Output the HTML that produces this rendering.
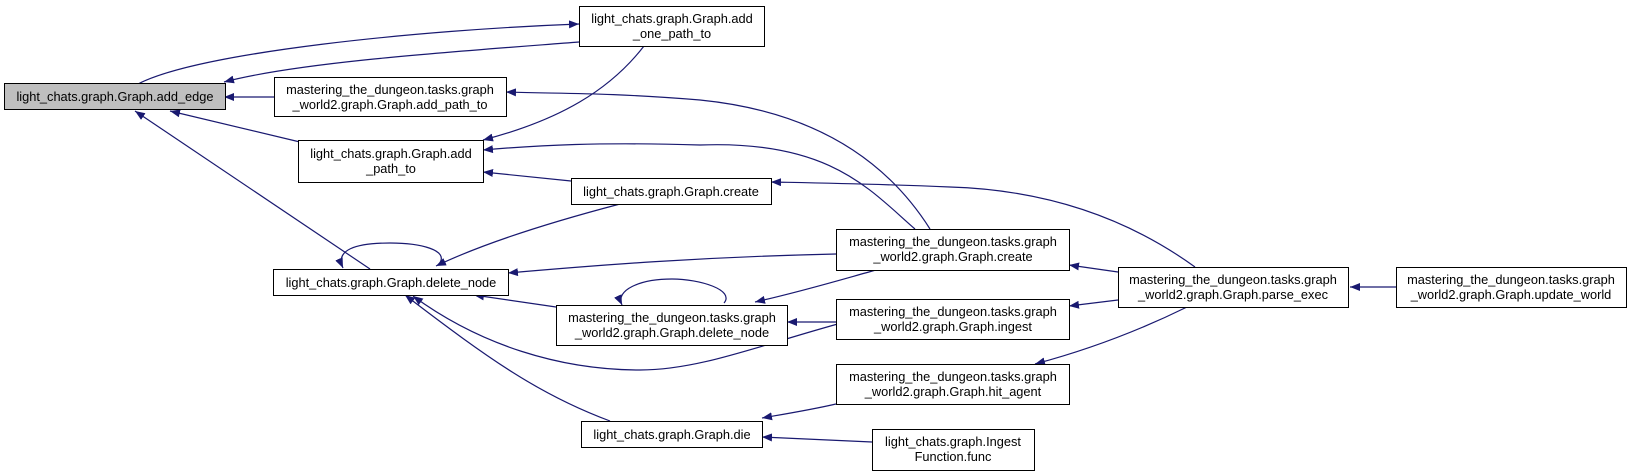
<!DOCTYPE html>
<html><head><meta charset="utf-8"><style>
html,body{margin:0;padding:0;background:#fff;}
svg{display:block;}
text{font-family:"Liberation Sans",sans-serif;font-size:12.8px;fill:#000;}
</style></head><body>
<svg width="1633" height="476" viewBox="0 0 1633 476" xmlns="http://www.w3.org/2000/svg">
<defs>
<marker id="a" viewBox="0 0 10 8" refX="10" refY="4" markerWidth="10" markerHeight="8" markerUnits="userSpaceOnUse" orient="auto">
<path d="M0,0 L10,4 L0,8 z" fill="#191970"/>
</marker>
</defs>
<g fill="none" stroke="#191970" stroke-width="1.2" marker-end="url(#a)">
<path d="M138,84 C200,52 420,30 579,24"/>
<path d="M579,42 C450,52 300,62 224,82"/>
<path d="M274,97 L224,97"/>
<path d="M300,142 L170,111"/>
<path d="M370,269 L135,111"/>
<path d="M644,46 C610,90 560,120 483,140"/>
<path d="M571,181 L483,172"/>
<path d="M915,229 C870,190 830,140 700,145 C600,142 540,145 483,150"/>
<path d="M930,229 C880,150 800,110 700,100 C600,92 560,94 506,92"/>
<path d="M620,204 C540,225 480,245 436,266"/>
<path d="M439,264 C450,250 420,243 390,243 C355,243 335,250 343,268"/>
<path d="M836,254 C700,257 600,265 508,273"/>
<path d="M556,307 L474,295"/>
<path d="M845,322 C760,345 700,370 640,370 C560,370 480,345 413,296"/>
<path d="M610,421 C540,395 490,360 405,295"/>
<path d="M724,303 C735,290 700,279 672,279 C640,279 615,290 622,305"/>
<path d="M876,270 C840,280 800,292 755,302"/>
<path d="M836,322 L787,322"/>
<path d="M1118,272 L1069,265"/>
<path d="M1118,300 L1069,306"/>
<path d="M1195,267 C1130,220 1050,190 950,187 C880,184 820,183 771,182"/>
<path d="M1187,307 C1130,335 1080,352 1035,364"/>
<path d="M836,404 C810,410 785,414 762,418"/>
<path d="M872,442 L762,437"/>
<path d="M1398,287 L1350,287"/>
</g>
<g stroke="#000" stroke-width="1" fill="#fff">
<rect x="4.5" y="83.5" width="221" height="26" fill="#bfbfbf"/>
<rect x="579.5" y="6.5" width="185" height="40"/>
<rect x="274.5" y="77.5" width="232" height="39"/>
<rect x="298.5" y="140.5" width="185" height="42"/>
<rect x="571.5" y="178.5" width="200" height="26"/>
<rect x="273.5" y="269.5" width="235" height="26"/>
<rect x="556.5" y="305.5" width="231" height="40"/>
<rect x="581.5" y="421.5" width="181" height="26"/>
<rect x="836.5" y="229.5" width="233" height="41"/>
<rect x="836.5" y="299.5" width="233" height="40"/>
<rect x="836.5" y="364.5" width="233" height="40"/>
<rect x="872.5" y="429.5" width="162" height="41"/>
<rect x="1118.5" y="267.5" width="230" height="40"/>
<rect x="1396.5" y="267.5" width="230" height="40"/>
</g>
<g text-anchor="middle">
<text x="115" y="101">light_chats.graph.Graph.add_edge</text>
<text x="672" y="23">light_chats.graph.Graph.add</text>
<text x="672" y="38">_one_path_to</text>
<text x="390" y="94">mastering_the_dungeon.tasks.graph</text>
<text x="390" y="109">_world2.graph.Graph.add_path_to</text>
<text x="391" y="158">light_chats.graph.Graph.add</text>
<text x="391" y="173">_path_to</text>
<text x="671" y="196">light_chats.graph.Graph.create</text>
<text x="391" y="287">light_chats.graph.Graph.delete_node</text>
<text x="672" y="322">mastering_the_dungeon.tasks.graph</text>
<text x="672" y="337">_world2.graph.Graph.delete_node</text>
<text x="672" y="439">light_chats.graph.Graph.die</text>
<text x="953" y="246">mastering_the_dungeon.tasks.graph</text>
<text x="953" y="261">_world2.graph.Graph.create</text>
<text x="953" y="316">mastering_the_dungeon.tasks.graph</text>
<text x="953" y="331">_world2.graph.Graph.ingest</text>
<text x="953" y="381">mastering_the_dungeon.tasks.graph</text>
<text x="953" y="396">_world2.graph.Graph.hit_agent</text>
<text x="953" y="446">light_chats.graph.Ingest</text>
<text x="953" y="461">Function.func</text>
<text x="1233" y="284">mastering_the_dungeon.tasks.graph</text>
<text x="1233" y="299">_world2.graph.Graph.parse_exec</text>
<text x="1511" y="284">mastering_the_dungeon.tasks.graph</text>
<text x="1511" y="299">_world2.graph.Graph.update_world</text>
</g>
</svg>
</body></html>
